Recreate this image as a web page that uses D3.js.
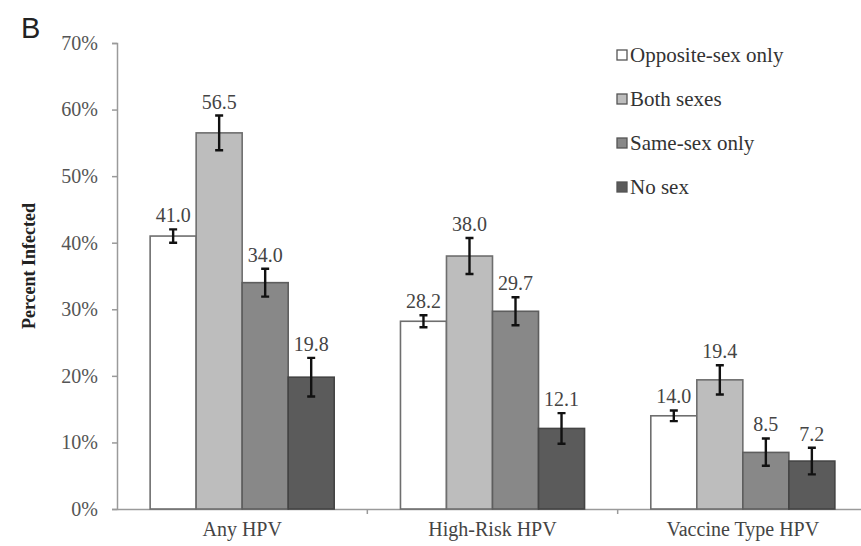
<!DOCTYPE html>
<html>
<head>
<meta charset="utf-8">
<script src="https://cdn.jsdelivr.net/npm/d3@7"></script>
<style>
  body { margin: 0; background: #fff; }
</style>
</head>
<body>
<script>
var width = 861,
    height = 546;

// chart values
var groups = ["Any HPV", "High-Risk HPV", "Vaccine Type HPV"];
var series = ["Opposite-sex only", "Both sexes", "Same-sex only", "No sex"];
var values = [
    [41.0, 56.5, 34.0, 19.8],
    [28.2, 38.0, 29.7, 12.1],
    [14.0, 19.4, 8.5, 7.2]
];
var lower = [
    [40.0, 53.9, 31.9, 16.9],
    [27.3, 35.3, 27.6, 9.8],
    [13.2, 17.2, 6.5, 5.2]
];
var upper = [
    [42.0, 59.1, 36.1, 22.7],
    [29.1, 40.7, 31.8, 14.4],
    [14.8, 21.6, 10.6, 9.2]
];
var yTicks = [0, 10, 20, 30, 40, 50, 60, 70];

var fills = ["#ffffff", "#bdbdbd", "#888888", "#5b5b5b"];
var strokes = ["#6e6e6e", "#6e6e6e", "#5e5e5e", "#444444"];

var serif = "'Liberation Serif', 'Times New Roman', serif";
var margin = {left: 117, top: 43, bottom: 37};

var svg = d3.select("body")
    .append("svg")
    .attr("width", width)
    .attr("height", height);

var x0 = d3.scaleBand()
    .domain(groups)
    .range([margin.left, 868])
    .paddingInner(0)
    .paddingOuter(0);

var x1 = d3.scaleBand()
    .domain(series)
    .range([0, x0.bandwidth()])
    .paddingOuter(0.72)
    .paddingInner(0);

var y = d3.scaleLinear()
    .domain([0, 70])
    .range([height - margin.bottom, margin.top]);

// y axis
var yAxis = svg.append("g")
    .attr("transform", "translate(" + margin.left + ",0)")
    .call(d3.axisLeft(y).tickValues(yTicks).tickSize(5).tickFormat(function(d) { return d + "%"; }));
yAxis.selectAll("path, line").attr("stroke", "#9a9a9a").attr("stroke-width", 1.5);
yAxis.selectAll("text")
    .attr("x", -19)
    .style("font-family", serif)
    .style("font-size", "20px")
    .attr("fill", "#555");

// x axis
var xAxis = svg.append("g")
    .attr("transform", "translate(0," + y(0) + ")")
    .call(d3.axisBottom(x0).tickSize(0));
xAxis.select(".domain").attr("stroke", "#9a9a9a").attr("stroke-width", 1.5);
xAxis.selectAll("text")
    .attr("dy", "1.2em")
    .style("font-family", serif)
    .style("font-size", "20px")
    .attr("fill", "#444");
// small ticks between groups
xAxis.selectAll(".sep")
    .data(groups.slice(1))
    .enter()
    .append("line")
    .attr("x1", function(d) { return x0(d); })
    .attr("x2", function(d) { return x0(d); })
    .attr("y1", 0)
    .attr("y2", 5)
    .attr("stroke", "#9a9a9a")
    .attr("stroke-width", 1.5);

// bars
var group = svg.selectAll(".group")
    .data(groups)
    .enter()
    .append("g")
    .attr("class", "group")
    .attr("transform", function(d) { return "translate(" + x0(d) + ",0)"; });

group.each(function(g, gi) {
    var sel = d3.select(this);
    var rows = series.map(function(s, si) {
        return {s: s, si: si, v: values[gi][si], lo: lower[gi][si], hi: upper[gi][si]};
    });

    sel.selectAll("rect")
        .data(rows)
        .enter()
        .append("rect")
        .attr("x", function(d) { return x1(d.s); })
        .attr("y", function(d) { return y(d.v); })
        .attr("width", x1.bandwidth())
        .attr("height", function(d) { return y(0) - y(d.v); })
        .attr("fill", function(d) { return fills[d.si]; })
        .attr("stroke", function(d) { return strokes[d.si]; })
        .attr("stroke-width", 1.6);

    var cx = function(d) { return x1(d.s) + x1.bandwidth() / 2; };

    sel.selectAll(".err")
        .data(rows)
        .enter()
        .append("path")
        .attr("class", "err")
        .attr("d", function(d) {
            var c = cx(d), t = y(d.hi), b = y(d.lo);
            return "M" + (c - 4) + "," + t + "H" + (c + 4) +
                   "M" + c + "," + t + "V" + b +
                   "M" + (c - 4) + "," + b + "H" + (c + 4);
        })
        .attr("stroke", "#111")
        .attr("stroke-width", 2.4)
        .attr("fill", "none");

    sel.selectAll(".val")
        .data(rows)
        .enter()
        .append("text")
        .attr("class", "val")
        .attr("x", cx)
        .attr("y", function(d) { return y(d.hi) - 7; })
        .attr("text-anchor", "middle")
        .style("font-family", serif)
        .style("font-size", "20px")
        .attr("fill", "#444")
        .text(function(d) { return d.v.toFixed(1); });
});

// y title
svg.append("text")
    .attr("transform", "translate(35,266) rotate(-90)")
    .attr("text-anchor", "middle")
    .style("font-family", serif)
    .style("font-size", "18px")
    .style("font-weight", "bold")
    .attr("fill", "#222")
    .text("Percent Infected");

// panel letter
svg.append("text")
    .attr("x", 21)
    .attr("y", 38)
    .style("font-family", "'Liberation Sans', Arial, sans-serif")
    .style("font-size", "29px")
    .attr("fill", "#222")
    .text("B");

// legend
var legend = svg.append("g")
    .attr("transform", "translate(617,55)");
var item = legend.selectAll("g")
    .data(series)
    .enter()
    .append("g")
    .attr("transform", function(d, i) { return "translate(0," + (i * 44) + ")"; });
item.append("rect")
    .attr("x", 0)
    .attr("y", -5)
    .attr("width", 10)
    .attr("height", 10)
    .attr("fill", function(d, i) { return fills[i]; })
    .attr("stroke", "#555")
    .attr("stroke-width", 1.3);
item.append("text")
    .attr("x", 13)
    .attr("y", 7)
    .style("font-family", serif)
    .style("font-size", "21px")
    .attr("fill", "#333")
    .text(function(d) { return d; });
</script>
</body>
</html>
